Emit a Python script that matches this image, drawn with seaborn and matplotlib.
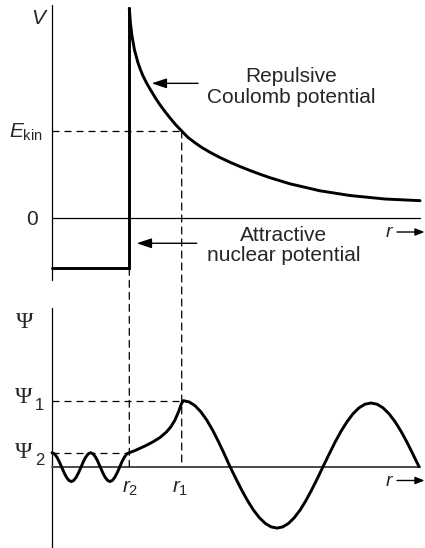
import matplotlib
matplotlib.use("Agg")
import matplotlib.pyplot as plt
from matplotlib.patches import ConnectionPatch
import seaborn as sns

# Niveles característicos (unidades arbitrarias: r2 = 1, E_kin = 1, Psi1 = 1)
R2 = 1.0
R1 = 1.678
E_KIN = 1.0
V_WELL = -0.573
V_TOP = 2.405
PSI1 = 1.0
PSI2 = 0.212
R_END = 4.761

# Potencial de Coulomb
coulomb_r = [1.000, 1.016, 1.035, 1.067, 1.113, 1.145, 1.177, 1.222, 1.268, 1.332,
             1.397, 1.462, 1.527, 1.602, 1.678, 1.759, 1.850, 1.940, 2.044, 2.173,
             2.303, 2.432, 2.561, 2.691, 2.820, 3.079, 3.467, 3.855, 4.308, 4.761]
coulomb_v = [2.405, 2.226, 2.088, 1.928, 1.779, 1.701, 1.632, 1.552, 1.481, 1.387,
             1.300, 1.222, 1.149, 1.070, 1.000, 0.926, 0.865, 0.810, 0.756, 0.696,
             0.642, 0.593, 0.548, 0.505, 0.465, 0.395, 0.315, 0.261, 0.221, 0.202]

# Función de onda: dentro del pozo
inner_r = [0.000, 0.031, 0.062, 0.094, 0.125, 0.156, 0.188, 0.219, 0.250, 0.281, 0.312,
           0.344, 0.375, 0.406, 0.438, 0.469, 0.500, 0.531, 0.562, 0.594, 0.625, 0.656,
           0.688, 0.719, 0.750, 0.781, 0.812, 0.844, 0.875, 0.906, 0.938, 0.969, 1.000]
inner_psi = [0.212, 0.195, 0.148, 0.077, -0.007, -0.090, -0.161, -0.208, -0.225, -0.208,
             -0.161, -0.090, -0.007, 0.077, 0.148, 0.195, 0.212, 0.195, 0.148, 0.077,
             -0.007, -0.090, -0.161, -0.208, -0.225, -0.208, -0.161, -0.090, -0.007,
             0.077, 0.148, 0.195, 0.212]

# Función de onda: región de la barrera (r2 -> r1)
barrier_r = [1.074, 1.138, 1.216, 1.310, 1.397, 1.484, 1.540, 1.591, 1.636, 1.670, 1.690]
barrier_psi = [0.245, 0.279, 0.321, 0.379, 0.442, 0.530, 0.609, 0.708, 0.829, 0.940, 0.990]

# Función de onda: fuera del núcleo
outer_r = [1.700, 1.775, 1.851, 1.926, 2.002, 2.077, 2.152, 2.228, 2.303,
           2.379, 2.455, 2.531, 2.607, 2.683, 2.759, 2.835, 2.911,
           2.985, 3.060, 3.134, 3.209, 3.283, 3.357, 3.432, 3.506,
           3.584, 3.661, 3.739, 3.817, 3.894, 3.972, 4.049, 4.127,
           4.205, 4.282, 4.360, 4.438, 4.515, 4.593, 4.670, 4.748]
outer_psi = [1.000, 0.981, 0.924, 0.831, 0.707, 0.556, 0.383, 0.195, 0.000,
             -0.181, -0.356, -0.517, -0.658, -0.773, -0.859, -0.912, -0.930,
             -0.912, -0.859, -0.773, -0.658, -0.517, -0.356, -0.181, 0.000,
             0.188, 0.369, 0.537, 0.682, 0.802, 0.892, 0.947, 0.965,
             0.947, 0.892, 0.802, 0.682, 0.537, 0.369, 0.188, 0.000]

sns.set_theme(style="white")
plt.rcParams["font.family"] = ["Liberation Sans", "DejaVu Sans"]
plt.rcParams["mathtext.fontset"] = "custom"
plt.rcParams["mathtext.rm"] = "Liberation Sans"
plt.rcParams["mathtext.it"] = "Liberation Sans:italic"

THICK = 2.1
THIN = 0.9
DASH = (0, (5.6, 4.0))
FS = 15

fig = plt.figure(figsize=(4.25, 5.48), dpi=100)
ax_top = fig.add_axes([0, 258 / 548, 1, 290 / 548])
ax_bot = fig.add_axes([0, 0, 1, 258 / 548])

for ax in (ax_top, ax_bot):
    ax.set_axis_off()
    ax.set_xlim(-0.6727, 4.8254)
ax_top.set_ylim(-0.8213, 2.5006)
ax_bot.set_ylim(-1.2318, 2.6773)

# ---- Panel superior: potencial ----
ax_top.plot([0, 0], [-0.71, 2.446], color="black", lw=THIN)
ax_top.plot([0, R_END], [0, 0], color="black", lw=THIN)
ax_top.plot([0, R1], [E_KIN, E_KIN], color="black", lw=THIN, linestyle=DASH)
ax_top.plot([0, R2, R2], [V_WELL, V_WELL, V_TOP], color="black", lw=THICK,
            solid_joinstyle="miter")
sns.lineplot(x=coulomb_r, y=coulomb_v, ax=ax_top, color="black", lw=THICK,
             sort=False, estimator=None)

big_head = dict(arrowstyle="-|>,head_length=0.6,head_width=0.2", color="black",
                lw=1.0, mutation_scale=15, shrinkA=0, shrinkB=0)
ax_top.annotate("", xy=(1.290, 1.546), xytext=(1.889, 1.546), arrowprops=big_head)
ax_top.annotate("", xy=(1.096, -0.286), xytext=(1.872, -0.286), arrowprops=big_head)

ax_top.text(3.098, 1.504, "Repulsive\nCoulomb potential", ha="center", va="center",
            fontsize=FS, linespacing=1.1)
ax_top.text(3.001, -0.312, "Attractive\nnuclear potential", ha="center", va="center",
            fontsize=FS, linespacing=1.1)

ax_top.text(-0.175, 2.283, "V", ha="center", va="center", fontsize=FS, style="italic")
ax_top.text(-0.116, 0.983, r"$E_{\mathrm{kin}}$", ha="right", va="center", fontsize=FS)
ax_top.text(-0.188, -0.019, "0", ha="right", va="center", fontsize=FS)

small_head = dict(arrowstyle="-|>,head_length=0.55,head_width=0.22", color="black",
                  lw=1.0, mutation_scale=10, shrinkA=0, shrinkB=0)
ax_top.text(4.360, -0.163, "r", ha="center", va="center", fontsize=14, style="italic")
ax_top.annotate("", xy=(4.819, -0.157), xytext=(4.463, -0.157), arrowprops=small_head)

# ---- Panel inferior: función de onda ----
ax_bot.plot([0, 0], [-1.3, 2.40], color="black", lw=THIN)
ax_bot.plot([0, R_END], [0, 0], color="#4a4a4a", lw=1.4)
ax_bot.plot([0, R1], [PSI1, PSI1], color="black", lw=THIN, linestyle=DASH)
ax_bot.plot([0, R2], [PSI2, PSI2], color="black", lw=THIN, linestyle=DASH)

psi_r = inner_r + barrier_r + outer_r
psi_v = inner_psi + barrier_psi + outer_psi
sns.lineplot(x=psi_r, y=psi_v, ax=ax_bot, color="black", lw=THICK,
             sort=False, estimator=None)

serif = ["Liberation Serif", "DejaVu Serif"]
ax_bot.text(-0.349, 2.185, "Ψ", ha="center", va="center", fontsize=17, family=serif)
ax_bot.text(-0.362, 1.048, "Ψ", ha="center", va="center", fontsize=17, family=serif)
ax_bot.text(-0.160, 0.927, "1", ha="center", va="center", fontsize=12)
ax_bot.text(-0.362, 0.208, "Ψ", ha="center", va="center", fontsize=17, family=serif)
ax_bot.text(-0.160, 0.100, "2", ha="center", va="center", fontsize=12)

ax_bot.text(1.016, -0.323, r"$r_2$", ha="center", va="center", fontsize=FS)
ax_bot.text(1.662, -0.323, r"$r_1$", ha="center", va="center", fontsize=FS)

ax_bot.text(4.360, -0.217, "r", ha="center", va="center", fontsize=14, style="italic")
ax_bot.annotate("", xy=(4.819, -0.209), xytext=(4.463, -0.209), arrowprops=small_head)

# Líneas discontinuas que unen ambos paneles
for r_val, v_val in ((R1, E_KIN), (R2, V_WELL)):
    con = ConnectionPatch(xyA=(r_val, v_val), coordsA=ax_top.transData,
                          xyB=(r_val, 0.0), coordsB=ax_bot.transData,
                          color="black", lw=THIN, linestyle=DASH)
    fig.add_artist(con)

fig.savefig("out.png", dpi=100)
